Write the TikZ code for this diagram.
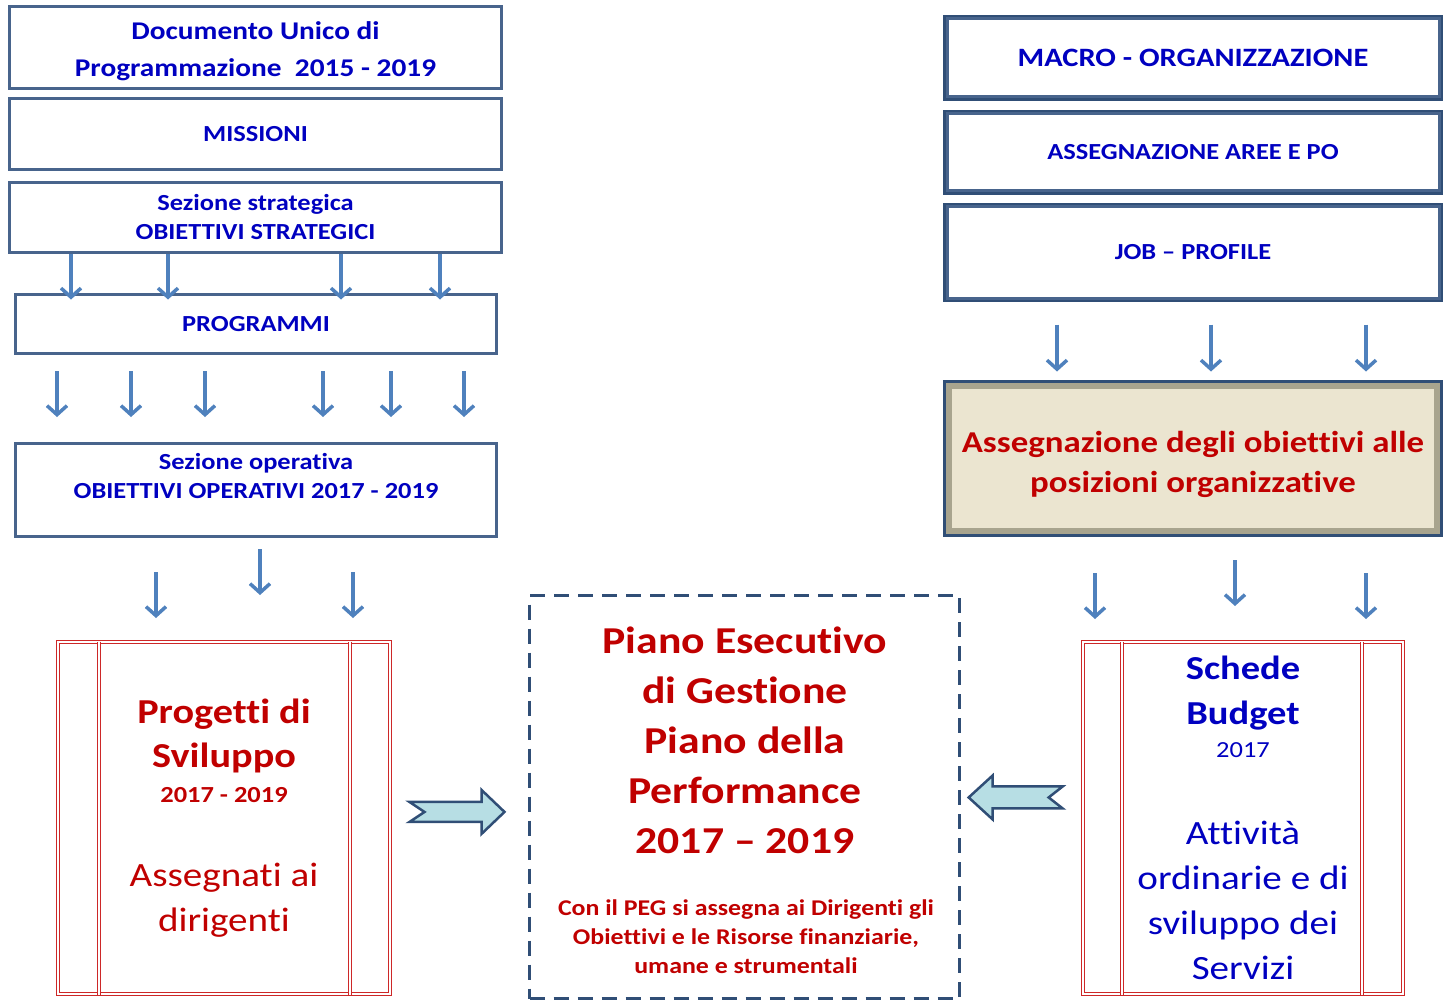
\documentclass[tikz,border=0pt]{standalone}
\usepackage{fontspec}
\setmainfont{Carlito}[FakeStretch=1.15, Ligatures=NoCommon]
\usepackage{xcolor}
\usetikzlibrary{arrows.meta, calc, positioning}

\definecolor{txtblue}{RGB}{0,0,192}
\definecolor{txtred}{RGB}{192,0,0}
\definecolor{arrblue}{RGB}{79,129,189}
\definecolor{frameblue}{RGB}{48,78,118}
\definecolor{framegray}{RGB}{72,100,140}
\definecolor{bevelgray}{RGB}{168,164,142}
\definecolor{beige}{RGB}{235,229,208}
\definecolor{fatfill}{RGB}{183,222,228}
\definecolor{redline}{RGB}{205,40,40}

\tikzset{
    topbox/.style={draw=framegray, line width=3pt, fill=white, inner sep=0pt, align=center, text=txtblue},
    orgbox/.style={topbox, preaction={draw=frameblue, line width=8pt}},
    posbox/.style={topbox, draw=bevelgray, line width=6pt, fill=beige, text=txtred, preaction={draw=frameblue, line width=12pt}},
    redbox/.style={draw=redline, line width=1pt, double=white, double distance=2pt, inner sep=0pt},
    redpair/.style={draw=redline, line width=1pt, double=white, double distance=2pt},
    pegbox/.style={draw=frameblue, line width=3pt, dash pattern=on 15pt off 9pt, inner sep=0pt},
    flow/.style={draw=arrblue, line width=3.5pt, -{Straight Barb[length=9pt, width=20pt]}},
    fat/.style={draw=frameblue, line width=2.5pt, fill=fatfill, line join=miter},
    txt/.style={align=center, inner sep=0pt}
}

\begin{document}
\begin{tikzpicture}[x=1pt, y=-1pt]
    \useasboundingbox (0, 0) rectangle (1445, 1003);

    \node[topbox, minimum width=492, minimum height=82, font=\bfseries\fontsize{25.5}{37}\selectfont] (dup) at (255.5, 47.5) {\rule{0pt}{26pt}Documento Unico di\\Programmazione\ \ 2015 - 2019};
    \node[topbox, minimum width=492, minimum height=71, font=\bfseries\fontsize{23}{29}\selectfont] (miss) at (255.5, 134) {MISSIONI};
    \node[topbox, minimum width=492, minimum height=70, font=\bfseries\fontsize{23}{29}\selectfont] (strat) at (255.5, 217.5) {Sezione strategica\\OBIETTIVI STRATEGICI};
    \node[topbox, minimum width=481, minimum height=59, font=\bfseries\fontsize{23}{29}\selectfont] (prog) at (256, 324) {PROGRAMMI};
    \node[topbox, minimum width=481, minimum height=93, font=\bfseries\fontsize{23}{29}\selectfont] (oper) at (256, 490) {Sezione operativa\\OBIETTIVI OPERATIVI 2017 - 2019\\~};

    \node[orgbox, minimum width=492, minimum height=78, font=\bfseries\fontsize{26.5}{30}\selectfont] (macro) at (1193, 58) {MACRO - ORGANIZZAZIONE};
    \node[orgbox, minimum width=492, minimum height=77, font=\bfseries\fontsize{23}{30}\selectfont] (aree) at (1193, 152.5) {ASSEGNAZIONE AREE E PO};
    \node[orgbox, minimum width=492, minimum height=91, font=\bfseries\fontsize{23}{30}\selectfont] (job) at (1193, 252.5) {JOB -- PROFILE};
    \node[posbox, minimum width=488, minimum height=145, font=\bfseries\fontsize{30.3}{40}\selectfont] (posiz) at (1193, 458.5) {\rule{0pt}{33pt}Assegnazione degli obiettivi alle\\posizioni organizzative};

    \node[redbox, minimum width=332, minimum height=352] (proj) at (224, 818) {};
    \node[pegbox, minimum width=430, minimum height=403] (peg) at (744.5, 797) {};
    \node[redbox, minimum width=320, minimum height=352] (budget) at (1243, 818) {};

    \draw[redpair] ([xshift=41]proj.north west) -- ([xshift=41]proj.south west);
    \draw[redpair] ([xshift=-41]proj.north east) -- ([xshift=-41]proj.south east);
    \draw[redpair] ([xshift=39]budget.north west) -- ([xshift=39]budget.south west);
    \draw[redpair] ([xshift=-42]budget.north east) -- ([xshift=-42]budget.south east);

    \node[txt, text=txtred, font=\bfseries\fontsize{35}{44}\selectfont] (projtitle) at (224, 736) {Progetti di\\Sviluppo};
    \node[txt, text=txtred, font=\bfseries\fontsize{23}{30}\selectfont] (projyear) at (224, 795) {2017 - 2019};
    \node[txt, text=txtred, font=\fontsize{34}{45}\selectfont] (projtext) at (224, 900) {Assegnati ai\\dirigenti};

    \node[txt, text=txtred, font=\bfseries\fontsize{38}{50}\selectfont] (pegtitle) at (745, 740) {Piano Esecutivo\\di Gestione\\Piano della\\Performance\\2017 -- 2019};
    \node[txt, text=txtred, font=\bfseries\fontsize{22.5}{29}\selectfont] (pegnote) at (746, 937) {Con il PEG si assegna ai Dirigenti gli\\Obiettivi e le Risorse finanziarie,\\umane e strumentali};

    \node[txt, text=txtblue, font=\bfseries\fontsize{33.5}{45}\selectfont] (budtitle) at (1243, 693) {Schede\\Budget};
    \node[txt, text=txtblue, font=\fontsize{23}{30}\selectfont] (budyear) at (1243, 750) {2017};
    \node[txt, text=txtblue, font=\fontsize{34}{45}\selectfont] (budtext) at (1243, 900.5) {Attività\\ordinarie e di\\sviluppo dei\\Servizi};

    \foreach \x in {71, 168, 341, 440}
        \draw[flow] (\x, 0 |- strat.south) -- +(0, 45.5);
    \foreach \x in {57, 131, 205, 323, 391, 464}
        \draw[flow] ($(\x, 0 |- prog.south) + (0, 16)$) -- +(0, 46);
    \foreach \x/\d in {156/34, 260/11, 353/34}
        \draw[flow] ($(\x, 0 |- oper.south) + (0, \d)$) -- +(0, 46);
    \foreach \x in {1057, 1211, 1366}
        \draw[flow] ($(\x, 0 |- job.south) + (0, 25)$) -- +(0, 47);
    \foreach \x/\d in {1095/39, 1235/26, 1366/39}
        \draw[flow] ($(\x, 0 |- posiz.south) + (0, \d)$) -- +(0, 46);

    \coordinate (fatR) at ($(proj.east)!0.48!(peg.west) + (0, 4)$);
    \coordinate (fatL) at ($(peg.east)!0.45!(budget.west) + (0, -9)$);
    \draw[fat, shift={(fatR)}] (-47, -10) -- (25, -10) -- (25, -22) -- (48, 0) -- (25, 22) -- (25, 10) -- (-47, 10) -- (-32, 0) -- cycle;
    \draw[fat, shift={(fatL)}] (-47, 0) -- (-23, -22) -- (-23, -11) -- (47, -11) -- (33, 0) -- (47, 11) -- (-23, 11) -- (-23, 22) -- cycle;
\end{tikzpicture}
\end{document}
